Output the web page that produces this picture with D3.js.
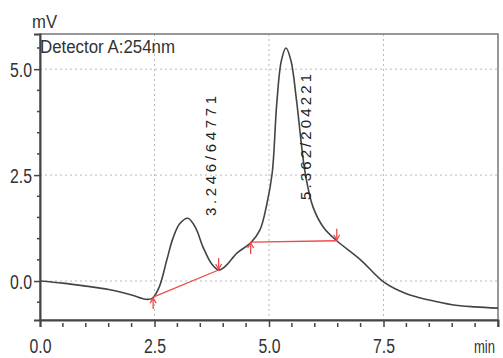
<!DOCTYPE html>
<html>
<head>
<meta charset="utf-8">
<script src="https://cdn.jsdelivr.net/npm/d3@7"></script>
<style>
  body { margin: 0; background: #fff; }
  text { font-family: "Liberation Sans", Arial, sans-serif; fill: #333; }
</style>
</head>
<body>
<script>
var width = 503,
    height = 358;

// chromatogram trace (min, mV)
var times = [0.0, 0.5, 1.0, 1.5, 2.0, 2.3, 2.45, 2.6, 2.77, 2.9, 3.05, 3.23, 3.4, 3.56, 3.75, 3.9,
             4.05, 4.3, 4.6, 4.8, 4.95, 5.07, 5.17, 5.27, 5.37, 5.48, 5.6, 5.79, 5.96, 6.2, 6.48,
             7.0, 7.5, 8.0, 8.5, 9.0, 9.5, 10.0];
var signal = [0.0, -0.05, -0.12, -0.2, -0.33, -0.43, -0.41, -0.15, 0.5, 1.0, 1.35, 1.48, 1.25, 0.8, 0.4, 0.26,
              0.35, 0.66, 0.9, 1.2, 1.8, 2.55, 4.2, 5.2, 5.5, 5.2, 4.27, 2.55, 1.75, 1.25, 0.95,
              0.5, -0.02, -0.3, -0.45, -0.56, -0.61, -0.64];

// integration baselines [start, end]
var baseStart = [[2.47, -0.38], [4.6, 0.92]];
var baseEnd = [[3.9, 0.26], [6.48, 0.95]];

// peak labels
var peakLabels = ["3.246/64771", "5.362/204221"];

var xTicks = [0.0, 2.5, 5.0, 7.5];
var yTicks = [0.0, 2.5, 5.0];

var x = d3.scaleLinear().domain([0, 10]).range([40, 498]),
    y = d3.scaleLinear().domain([-0.92, 5.83]).range([320, 34]);

var svg = d3.select("body")
    .append("svg")
    .attr("width", width)
    .attr("height", height);

//grid
svg.selectAll(".vgrid")
    .data(xTicks.filter(function(d) { return d > 0; }))
    .enter().append("line")
    .attr("x1", function(d) { return x(d); })
    .attr("x2", function(d) { return x(d); })
    .attr("y1", 34).attr("y2", 320)
    .style("stroke", "#bbb").style("stroke-dasharray", "2,3");

svg.selectAll(".hgrid")
    .data(yTicks)
    .enter().append("line")
    .attr("x1", 40).attr("x2", 498)
    .attr("y1", function(d) { return y(d); })
    .attr("y2", function(d) { return y(d); })
    .style("stroke", "#bbb").style("stroke-dasharray", "2,3");

//frame
svg.append("rect")
    .attr("x", 40).attr("y", 34)
    .attr("width", 458).attr("height", 286)
    .style("fill", "none").style("stroke", "#777").style("stroke-width", 1.5);

//axes
var xAxis = d3.axisBottom(x).tickValues(xTicks).tickFormat(d3.format(".1f")).tickSize(7).tickPadding(12);
var yAxis = d3.axisLeft(y).tickValues(yTicks).tickFormat(d3.format(".1f")).tickSize(6).tickPadding(2);

var gx = svg.append("g").attr("transform", "translate(0,320)").call(xAxis);
var gy = svg.append("g").attr("transform", "translate(40,0)").call(yAxis);

[gx, gy].forEach(function(g) {
    g.select(".domain").style("stroke", "#444").style("stroke-width", 2);
    g.selectAll(".tick line").style("stroke", "#444").style("stroke-width", 1.5);
    g.selectAll(".tick text")
        .style("font-size", "20px").style("fill", "#333")
        .style("font-family", "'Liberation Sans', Arial, sans-serif")
        .attr("textLength", 22)
        .attr("lengthAdjust", "spacingAndGlyphs");
});
gx.selectAll(".tick text").attr("dy", "0.71em");
gy.selectAll(".tick text").attr("dy", "0.36em");

//minor ticks
var minorX = d3.range(0, 10.01, 0.5).filter(function(d) { return d % 2.5 !== 0; });
var minorY = d3.range(-0.5, 5.6, 0.5).filter(function(d) { return Math.abs(d % 2.5) > 0.01; });

svg.selectAll(".mx")
    .data(minorX)
    .enter().append("line")
    .attr("x1", function(d) { return x(d); })
    .attr("x2", function(d) { return x(d); })
    .attr("y1", 323).attr("y2", 327)
    .style("stroke", "#444").style("stroke-width", 1.5);

svg.append("line")
    .attr("x1", x(10)).attr("x2", x(10))
    .attr("y1", 320).attr("y2", 327)
    .style("stroke", "#444").style("stroke-width", 1.5);

svg.selectAll(".my")
    .data(minorY)
    .enter().append("line")
    .attr("x1", 37).attr("x2", 40)
    .attr("y1", function(d) { return y(d); })
    .attr("y2", function(d) { return y(d); })
    .style("stroke", "#444").style("stroke-width", 1.5);

//axis titles
function label(tx, ty, txt, len, anchor, size) {
    svg.append("text")
        .attr("x", tx).attr("y", ty)
        .attr("text-anchor", anchor || "start")
        .attr("textLength", len)
        .attr("lengthAdjust", "spacingAndGlyphs")
        .style("font-size", (size || 19) + "px")
        .text(txt);
}
label(32, 28, "mV", 25);
label(495, 353, "min", 21, "end", 18);
label(40, 53, "Detector A:254nm", 135, "start", 18);

//trace
var pts = times.map(function(t, i) { return [t, signal[i]]; });
var line = d3.line()
    .x(function(d) { return x(d[0]); })
    .y(function(d) { return y(d[1]); })
    .curve(d3.curveCatmullRom.alpha(0.5));

svg.append("path")
    .datum(pts)
    .attr("d", line)
    .style("fill", "none")
    .style("stroke", "#444")
    .style("stroke-width", 1.6);

//baselines
baseStart.forEach(function(s, i) {
    var e = baseEnd[i];
    svg.append("line")
        .attr("x1", x(s[0])).attr("y1", y(s[1]))
        .attr("x2", x(e[0])).attr("y2", y(e[1]))
        .style("stroke", "#f04848").style("stroke-width", 1.3);
});

function arrow(px, py, dir) {
    // dir: 1 = below pointing up, -1 = above pointing down
    var tip = py,
        tail = py + dir * 11;
    svg.append("line")
        .attr("x1", px).attr("x2", px).attr("y1", tip).attr("y2", tail)
        .style("stroke", "#f04848").style("stroke-width", 1.3);
    svg.append("path")
        .attr("d", "M" + (px - 3) + "," + (tip + dir * 5) + "L" + px + "," + tip + "L" + (px + 3) + "," + (tip + dir * 5))
        .style("fill", "none").style("stroke", "#f04848").style("stroke-width", 1.3);
}
baseStart.forEach(function(s) { arrow(x(s[0]), y(s[1]) + 1, 1); });
baseEnd.forEach(function(e) { arrow(x(e[0]), y(e[1]) - 1, -1); });

//peak labels
var labX = [216, 311], labY = [216, 200], labLen = [120, 126];
peakLabels.forEach(function(txt, i) {
    svg.append("text")
        .attr("transform", "translate(" + labX[i] + "," + labY[i] + ") rotate(-90)")
        .attr("textLength", labLen[i])
        .attr("lengthAdjust", "spacing")
        .style("font-size", "15px")
        .style("fill", "#222")
        .text(txt);
});
</script>
</body>
</html>
